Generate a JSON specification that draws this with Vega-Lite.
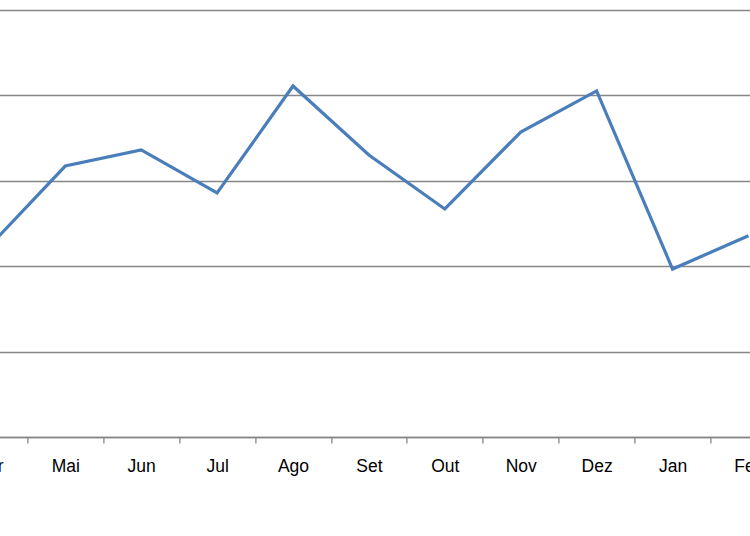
{
  "$schema": "https://vega.github.io/schema/vega-lite/v6.json",
  "autosize": {"type": "none"},
  "padding": {"left": -48.6, "top": 10, "right": -36.4, "bottom": 99},
  "width": 835,
  "height": 427,
  "background": "white",
  "config": {"view": {"stroke": null}},
  "data": {
    "values": [
      {"mes": "Abr", "valor": 2.233},
      {"mes": "Mai", "valor": 3.173},
      {"mes": "Jun", "valor": 3.361},
      {"mes": "Jul", "valor": 2.857},
      {"mes": "Ago", "valor": 4.11},
      {"mes": "Set", "valor": 3.302},
      {"mes": "Out", "valor": 2.67},
      {"mes": "Nov", "valor": 3.571},
      {"mes": "Dez", "valor": 4.052},
      {"mes": "Jan", "valor": 1.967},
      {"mes": "Fev", "valor": 2.356}
    ]
  },
  "mark": {"type": "line", "color": "#4a7ebb", "strokeWidth": 3.2, "strokeJoin": "miter"},
  "encoding": {
    "x": {
      "field": "mes",
      "type": "ordinal",
      "sort": null,
      "scale": {"type": "band", "paddingInner": 0, "paddingOuter": 0},
      "axis": {
        "title": null,
        "labelAngle": 0,
        "labelFont": "Liberation Sans",
        "labelFontSize": 17.5,
        "labelColor": "#000000",
        "labelPadding": 14,
        "domainColor": "#868686",
        "domainWidth": 1.3,
        "tickColor": "#868686",
        "tickWidth": 1.3,
        "tickSize": 6,
        "tickBand": "extent",
        "grid": false
      }
    },
    "y": {
      "field": "valor",
      "type": "quantitative",
      "scale": {"domain": [0, 5], "nice": false, "zero": true},
      "axis": {
        "title": null,
        "labels": false,
        "ticks": false,
        "domain": false,
        "grid": true,
        "gridColor": "#868686",
        "gridWidth": 1.3,
        "gridOpacity": 1,
        "tickCount": 5
      }
    }
  }
}
